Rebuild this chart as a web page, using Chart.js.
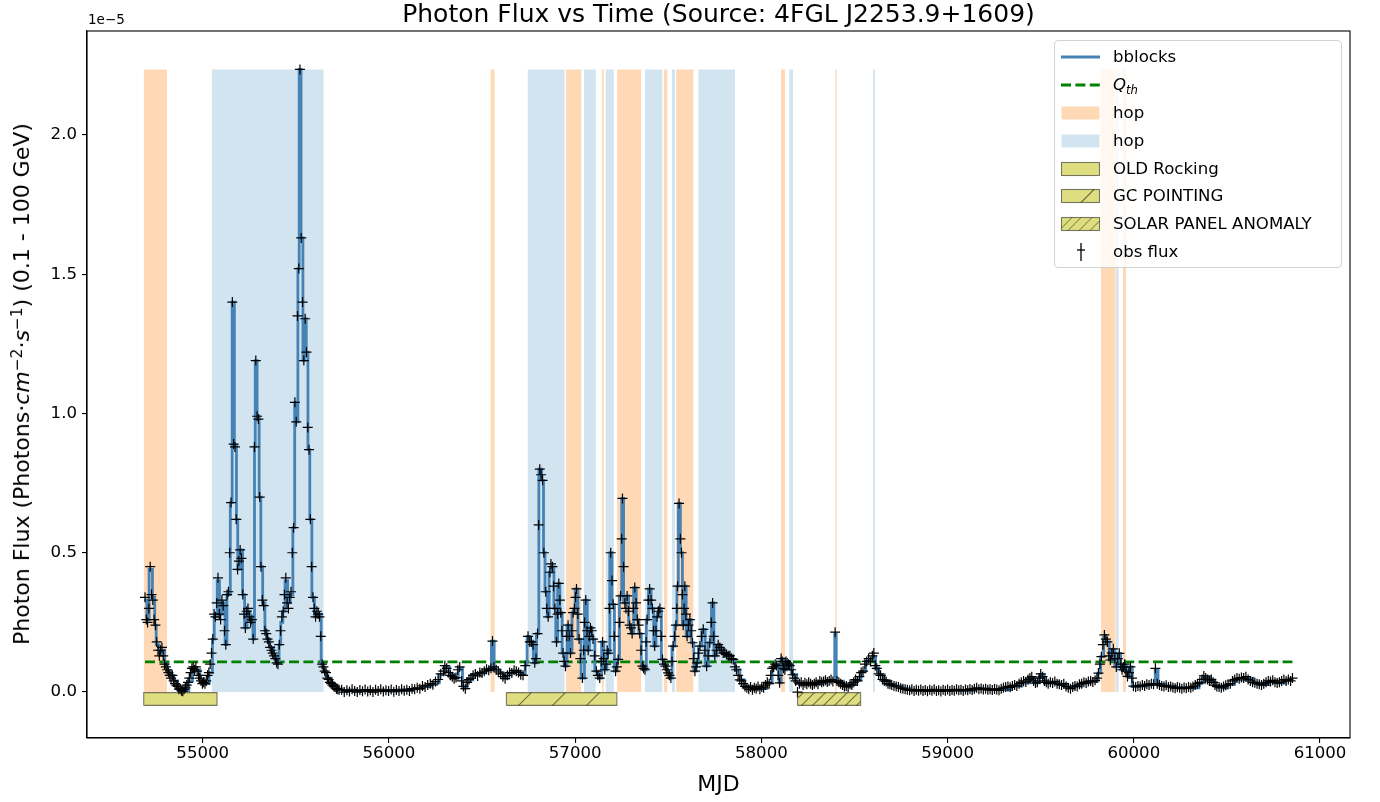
<!DOCTYPE html>
<html><head><meta charset="utf-8">
<script src="https://cdn.jsdelivr.net/npm/chart.js@4.4.0/dist/chart.umd.min.js"></script>
<style>
html,body{margin:0;padding:0;background:#fff;}
#wrap{position:relative;width:1380px;height:802px;font-family:"DejaVu Sans",sans-serif;color:#000;}
#offset{position:absolute;left:88px;top:11px;font-size:13.5px;line-height:16px;}
#ylab{position:absolute;left:22px;top:384px;transform:translate(-50%,-50%) rotate(-90deg);font-size:22px;line-height:26px;white-space:nowrap;}
#ylab sup{font-size:70%;line-height:0;vertical-align:0.45em;}
#legend{position:absolute;left:1054px;top:40px;width:288px;height:228px;border:1px solid #d3d3d3;border-radius:4px;background:rgba(255,255,255,0.8);box-sizing:border-box;font-size:16.6px;}
.row{position:absolute;left:0;width:286px;height:24px;}
.row svg{position:absolute;left:6px;top:0;}
.row span{position:absolute;left:58px;top:0;line-height:24px;white-space:nowrap;}
</style></head>
<body>
<div id="wrap">
<canvas id="c" width="1380" height="802"></canvas>
<div id="offset">1e−5</div>
<div id="ylab">Photon Flux (Photons·<i>cm</i><sup>−2</sup>·<i>s</i><sup>−1</sup>) (0.1 - 100 GeV)</div>
<div id="legend"></div>
</div>
<script>
// ---- data (flux in units of 1e-5 photons cm^-2 s^-1) ----
const obsFlux = [
[54690,0.34],[54697,0.26],[54704,0.25],[54711,0.30],[54718,0.45],[54725,0.35],[54732,0.33],[54739,0.26],[54746,0.24],[54753,0.18],
[54760,0.15],[54767,0.13],[54774,0.15],[54781,0.16],[54788,0.13],[54795,0.10],[54802,0.09],[54809,0.08],[54816,0.07],[54823,0.06],
[54830,0.05],[54837,0.06],[54844,0.04],[54851,0.03],[54858,0.025],[54865,0.02],[54872,0.01],[54879,0.012],[54886,0.005],[54893,0.003],
[54900,0.01],[54907,0.015],[54914,0.025],[54921,0.035],[54928,0.05],[54935,0.07],[54942,0.085],[54949,0.09],[54956,0.08],[54963,0.09],
[54970,0.075],[54977,0.06],[54984,0.05],[54991,0.04],[54998,0.03],[55005,0.035],[55012,0.03],[55019,0.04],[55026,0.06],[55033,0.07],
[55040,0.10],[55047,0.14],[55054,0.19],[55061,0.28],[55068,0.27],[55075,0.32],[55082,0.41],[55089,0.28],[55096,0.26],[55103,0.33],
[55110,0.31],[55117,0.22],[55124,0.17],[55131,0.35],[55138,0.36],[55145,0.50],[55152,0.68],[55159,1.40],[55166,0.89],[55173,0.88],
[55180,0.62],[55187,0.44],[55194,0.47],[55201,0.51],[55208,0.48],[55215,0.35],[55222,0.28],[55229,0.23],[55236,0.29],[55243,0.30],
[55250,0.27],[55257,0.25],[55264,0.26],[55271,0.19],[55278,0.88],[55285,1.19],[55292,0.99],[55299,0.98],[55306,0.70],[55313,0.45],
[55320,0.33],[55327,0.31],[55334,0.22],[55341,0.21],[55348,0.19],[55355,0.18],[55362,0.16],[55369,0.15],[55376,0.14],[55383,0.13],
[55390,0.12],[55397,0.105],[55404,0.10],[55411,0.17],[55418,0.22],[55425,0.27],[55432,0.29],[55439,0.35],[55446,0.41],[55453,0.32],
[55460,0.30],[55467,0.34],[55474,0.36],[55481,0.50],[55488,0.59],[55495,1.04],[55502,0.97],[55509,1.35],[55516,1.52],[55522,2.235],
[55529,1.63],[55536,1.40],[55543,1.19],[55550,1.34],[55557,1.22],[55564,0.95],[55571,0.87],[55578,0.62],[55585,0.45],[55592,0.34],
[55599,0.30],[55606,0.27],[55613,0.29],[55620,0.28],[55627,0.27],[55634,0.20],[55641,0.10],[55648,0.09],[55655,0.075],[55662,0.07],
[55669,0.05],[55676,0.045],[55683,0.035],[55690,0.03],[55697,0.025],[55704,0.02],[55711,0.018],[55718,0.012],[55725,0.01],[55732,0.008],
[55746,0.008],[55760,0.0],[55774,0.006],[55788,0.002],[55802,0.01],[55816,0.004],[55830,0.0],[55844,0.007],[55858,0.003],[55872,0.009],
[55886,0.002],[55900,0.006],[55914,0.0],[55928,0.008],[55942,0.004],[55956,0.01],[55970,0.002],[55984,0.006],[55998,0.004],[56012,0.009],
[56026,0.001],[56040,0.007],[56054,0.004],[56068,0.01],[56082,0.005],[56096,0.008],[56110,0.004],[56124,0.012],[56138,0.01],[56152,0.015],
[56166,0.012],[56180,0.022],[56194,0.018],[56208,0.025],[56222,0.03],[56236,0.026],[56250,0.038],[56264,0.045],[56278,0.065],[56292,0.075],
[56300,0.095],[56310,0.085],[56320,0.07],[56330,0.06],[56340,0.055],[56350,0.048],[56360,0.052],[56370,0.08],[56380,0.09],[56390,0.04],
[56400,0.02],[56410,0.012],[56420,0.035],[56430,0.045],[56440,0.05],[56452,0.06],[56464,0.065],[56476,0.058],[56488,0.07],[56500,0.068],
[56512,0.075],[56524,0.082],[56536,0.078],[56548,0.085],[56556,0.183],[56564,0.09],[56576,0.08],[56588,0.072],[56600,0.065],[56612,0.055],
[56624,0.048],[56636,0.06],[56648,0.07],[56660,0.068],[56672,0.078],[56684,0.075],[56696,0.07],[56708,0.062],[56720,0.06],[56732,0.095],
[56747,0.20],[56756,0.18],[56765,0.18],[56774,0.17],[56783,0.105],[56790,0.12],[56798,0.21],[56804,0.60],[56810,0.80],[56817,0.78],
[56825,0.76],[56832,0.50],[56842,0.36],[56848,0.30],[56855,0.27],[56864,0.43],[56870,0.46],[56878,0.45],[56884,0.38],[56891,0.30],
[56900,0.18],[56906,0.28],[56912,0.39],[56918,0.33],[56923,0.285],[56929,0.22],[56935,0.14],[56941,0.11],[56948,0.093],[56955,0.20],
[56962,0.24],[56968,0.20],[56975,0.14],[56982,0.22],[56989,0.285],[56996,0.30],[57002,0.34],[57007,0.37],[57014,0.28],[57021,0.19],
[57028,0.12],[57039,0.05],[57046,0.15],[57051,0.25],[57057,0.33],[57064,0.22],[57070,0.15],[57076,0.20],[57082,0.23],[57089,0.22],
[57096,0.19],[57105,0.13],[57114,0.075],[57122,0.06],[57132,0.05],[57140,0.11],[57147,0.18],[57153,0.12],[57159,0.08],[57166,0.10],
[57172,0.15],[57177,0.14],[57184,0.30],[57191,0.50],[57198,0.40],[57204,0.315],[57210,0.20],[57217,0.075],[57224,0.09],[57231,0.117],
[57238,0.25],[57244,0.345],[57250,0.55],[57254,0.695],[57260,0.45],[57267,0.32],[57273,0.30],[57279,0.345],[57286,0.29],[57293,0.24],
[57300,0.23],[57306,0.21],[57313,0.30],[57320,0.375],[57327,0.32],[57334,0.26],[57341,0.24],[57347,0.21],[57354,0.15],[57361,0.093],
[57368,0.085],[57375,0.08],[57381,0.18],[57386,0.26],[57393,0.33],[57400,0.37],[57408,0.33],[57415,0.30],[57421,0.22],[57427,0.165],
[57434,0.22],[57440,0.27],[57447,0.29],[57455,0.30],[57462,0.20],[57469,0.117],[57477,0.10],[57485,0.093],[57492,0.08],[57499,0.069],
[57506,0.06],[57514,0.05],[57520,0.11],[57526,0.165],[57534,0.20],[57541,0.24],[57546,0.30],[57550,0.38],[57558,0.677],[57565,0.55],
[57571,0.50],[57576,0.35],[57580,0.24],[57585,0.30],[57589,0.38],[57595,0.28],[57601,0.20],[57608,0.24],[57616,0.26],[57623,0.22],
[57630,0.177],[57637,0.12],[57643,0.075],[57649,0.09],[57655,0.105],[57662,0.14],[57670,0.165],[57679,0.20],[57688,0.225],[57697,0.15],
[57706,0.093],[57714,0.13],[57723,0.177],[57731,0.25],[57738,0.32],[57744,0.20],[57750,0.13],[57759,0.15],[57768,0.17],[57777,0.16],
[57786,0.15],[57795,0.14],[57804,0.14],[57813,0.135],[57822,0.13],[57831,0.13],[57840,0.12],[57849,0.117],[57858,0.09],[57866,0.08],
[57875,0.06],[57884,0.044],[57893,0.04],[57902,0.03],[57912,0.02],[57922,0.015],[57932,0.01],[57942,0.018],[57952,0.008],[57962,0.015],
[57972,0.012],[57982,0.02],[57992,0.01],[58002,0.018],[58012,0.015],[58022,0.025],[58032,0.035],[58042,0.03],[58050,0.06],[58058,0.085],
[58066,0.09],[58074,0.10],[58082,0.095],[58090,0.06],[58098,0.033],[58106,0.12],[58112,0.11],[58118,0.085],[58126,0.08],[58132,0.11],
[58138,0.105],[58146,0.10],[58152,0.095],[58160,0.08],[58168,0.062],[58176,0.05],[58184,0.04],[58194,0.0],[58204,0.03],[58214,0.035],
[58224,0.025],[58234,0.033],[58244,0.028],[58254,0.035],[58264,0.03],[58274,0.025],[58284,0.03],[58294,0.035],[58304,0.028],[58314,0.04],
[58324,0.035],[58334,0.038],[58344,0.042],[58354,0.036],[58364,0.04],[58374,0.045],[58384,0.038],[58396,0.215],[58406,0.04],[58416,0.035],
[58426,0.03],[58436,0.025],[58446,0.02],[58456,0.022],[58466,0.018],[58476,0.028],[58486,0.025],[58496,0.035],[58506,0.045],[58516,0.04],
[58526,0.055],[58536,0.07],[58546,0.075],[58556,0.10],[58566,0.11],[58576,0.12],[58586,0.11],[58596,0.13],[58604,0.14],[58612,0.095],
[58620,0.085],[58630,0.065],[58640,0.06],[58650,0.045],[58660,0.04],[58670,0.038],[58680,0.03],[58690,0.028],[58700,0.025],[58712,0.022],
[58724,0.02],[58736,0.018],[58748,0.014],[58760,0.012],[58772,0.01],[58784,0.008],[58796,0.006],[58808,0.01],[58820,0.004],[58832,0.008],
[58844,0.005],[58856,0.009],[58868,0.004],[58880,0.007],[58892,0.003],[58904,0.008],[58916,0.005],[58928,0.01],[58940,0.004],[58952,0.006],
[58964,0.002],[58976,0.008],[58988,0.005],[59000,0.009],[59012,0.004],[59024,0.007],[59036,0.005],[59048,0.01],[59060,0.006],[59072,0.008],
[59084,0.004],[59096,0.009],[59108,0.006],[59120,0.011],[59132,0.007],[59144,0.012],[59156,0.015],[59168,0.01],[59180,0.013],[59192,0.009],
[59204,0.012],[59216,0.008],[59228,0.01],[59240,0.007],[59252,0.011],[59264,0.009],[59276,0.006],[59288,0.012],[59300,0.015],[59312,0.018],
[59324,0.02],[59336,0.017],[59348,0.022],[59360,0.025],[59372,0.022],[59384,0.03],[59396,0.035],[59408,0.04],[59420,0.036],[59432,0.045],
[59442,0.05],[59452,0.055],[59462,0.04],[59472,0.032],[59482,0.035],[59492,0.05],[59500,0.065],[59510,0.055],[59520,0.04],[59530,0.035],
[59540,0.03],[59552,0.035],[59564,0.032],[59576,0.038],[59588,0.03],[59600,0.028],[59612,0.025],[59624,0.03],[59636,0.02],[59648,0.015],
[59660,0.012],[59672,0.018],[59684,0.022],[59696,0.02],[59708,0.028],[59720,0.03],[59732,0.035],[59744,0.032],[59756,0.038],[59768,0.04],
[59780,0.036],[59792,0.042],[59802,0.05],[59810,0.068],[59818,0.10],[59826,0.127],[59834,0.17],[59842,0.205],[59850,0.19],[59858,0.18],
[59866,0.13],[59874,0.115],[59882,0.14],[59890,0.155],[59898,0.12],[59906,0.09],[59914,0.12],[59922,0.139],[59930,0.10],[59937,0.08],
[59944,0.09],[59951,0.10],[59958,0.075],[59966,0.056],[59974,0.07],[59982,0.09],[59990,0.05],[59998,0.021],[60010,0.018],[60022,0.022],
[60034,0.02],[60046,0.025],[60058,0.022],[60070,0.028],[60082,0.025],[60094,0.03],[60106,0.028],[60116,0.085],[60126,0.03],[60138,0.025],
[60150,0.022],[60162,0.02],[60174,0.024],[60186,0.018],[60198,0.02],[60210,0.016],[60222,0.014],[60234,0.018],[60246,0.015],[60258,0.012],
[60270,0.016],[60282,0.014],[60294,0.018],[60306,0.015],[60318,0.02],[60330,0.025],[60342,0.03],[60354,0.035],[60366,0.045],[60376,0.058],
[60386,0.05],[60396,0.045],[60406,0.04],[60416,0.045],[60426,0.035],[60436,0.025],[60446,0.02],[60458,0.018],[60470,0.015],[60482,0.02],
[60494,0.024],[60506,0.028],[60518,0.03],[60530,0.04],[60542,0.045],[60554,0.05],[60566,0.048],[60578,0.052],[60590,0.05],[60602,0.055],
[60614,0.045],[60626,0.04],[60638,0.035],[60650,0.033],[60662,0.03],[60674,0.028],[60686,0.025],[60698,0.03],[60710,0.035],[60722,0.04],
[60734,0.038],[60746,0.042],[60758,0.035],[60770,0.032],[60782,0.035],[60794,0.04],[60806,0.045],[60818,0.04],[60830,0.045],[60842,0.04],
[60852,0.05]
];

// Bayesian blocks: block start MJD and block level
const bbStart = [54687,54700,54712,54730,54742,54750,54765,54780,54795,54810,54828,54845,54865,54895,54925,54945,54985,55010,55035,55052,
55062,55078,55090,55104,55120,55130,55148,55158,55170,55181,55188,55200,55214,55225,55238,55254,55270,55278,55282,55292,
55303,55312,55322,55334,55345,55360,55380,55398,55410,55419,55430,55442,55456,55470,55484,55494,55503,55511,55518,55528,
55538,55546,55556,55565,55575,55586,55600,55612,55636,55650,55665,55690,55720,55750,56080,56130,56180,56230,56270,56298,
56325,56350,56372,56395,56420,56450,56490,56520,56550,56565,56595,56615,56640,56670,56705,56732,56742,56758,56776,56792,
56805,56820,56830,56838,56850,56860,56872,56886,56896,56906,56918,56930,56942,56956,56970,56983,57000,57015,57032,57050,
57065,57077,57090,57106,57125,57142,57154,57170,57186,57198,57211,57225,57238,57250,57260,57274,57287,57300,57314,57328,
57342,57355,57370,57382,57394,57408,57422,57434,57448,57463,57478,57493,57507,57520,57535,57546,57554,57565,57576,57585,
57596,57609,57624,57637,57650,57663,57680,57698,57715,57732,57745,57760,57778,57796,57820,57842,57860,57885,57910,57950,
58030,58058,58078,58095,58106,58120,58134,58150,58168,58190,58300,58350,58394,58402,58440,58475,58505,58535,58560,58580,
58598,58613,58630,58660,58690,58720,58755,58800,59150,59220,59340,59400,59440,59465,59495,59520,59600,59645,59680,59720,
59770,59808,59822,59838,59854,59868,59882,59898,59914,59930,59945,59960,59976,59992,60060,60115,60130,60170,60230,60350,
60380,60410,60435,60480,60500,60540,60590,60640,60680,60730,60770,60815];
const bbLevel = [0.33,0.26,0.44,0.34,0.24,0.17,0.14,0.15,0.10,0.075,0.06,0.04,0.012,0.005,0.04,0.08,0.04,0.03,0.07,0.19,
0.27,0.40,0.28,0.32,0.17,0.35,0.68,1.40,0.885,0.62,0.44,0.51,0.35,0.23,0.29,0.26,0.19,0.88,1.19,0.99,
0.70,0.45,0.32,0.22,0.19,0.16,0.13,0.105,0.17,0.25,0.29,0.40,0.32,0.35,0.59,1.04,0.97,1.52,2.235,1.63,
1.19,1.34,1.22,0.87,0.62,0.34,0.27,0.28,0.10,0.075,0.05,0.026,0.011,0.004,0.008,0.012,0.02,0.033,0.063,0.09,
0.063,0.05,0.085,0.014,0.044,0.063,0.069,0.08,0.183,0.08,0.069,0.05,0.069,0.075,0.063,0.099,0.20,0.18,0.105,0.21,
0.80,0.76,0.50,0.36,0.27,0.43,0.45,0.30,0.18,0.39,0.285,0.14,0.093,0.24,0.14,0.285,0.37,0.19,0.05,0.33,
0.15,0.23,0.19,0.075,0.05,0.18,0.08,0.14,0.50,0.315,0.075,0.117,0.345,0.695,0.32,0.345,0.24,0.21,0.375,0.26,
0.21,0.093,0.08,0.26,0.37,0.30,0.165,0.27,0.30,0.117,0.093,0.069,0.05,0.165,0.24,0.38,0.677,0.50,0.24,0.38,
0.20,0.26,0.177,0.075,0.105,0.165,0.225,0.093,0.177,0.32,0.13,0.17,0.15,0.14,0.13,0.117,0.08,0.044,0.02,0.012,
0.033,0.085,0.10,0.033,0.12,0.08,0.11,0.097,0.062,0.03,0.033,0.039,0.209,0.039,0.021,0.027,0.044,0.074,0.11,0.115,
0.127,0.086,0.062,0.039,0.027,0.021,0.012,0.006,0.012,0.009,0.021,0.033,0.05,0.033,0.062,0.033,0.027,0.015,0.021,0.033,
0.039,0.068,0.127,0.197,0.18,0.115,0.15,0.09,0.139,0.08,0.097,0.056,0.09,0.021,0.027,0.08,0.027,0.021,0.015,0.033,
0.056,0.044,0.021,0.015,0.027,0.044,0.05,0.033,0.027,0.039,0.033,0.044];

const qThreshold = 0.108;

// HOP groups (alternating colours in order)
const hopStart = [54683,55048,56545,56744,56950,57047,57143,57163,57225,57374,57476,57520,57542,57661,58105,58149,58396,58599,59823,59904,59942];
const hopEnd   = [54808,55650,56568,56944,57034,57111,57154,57208,57356,57469,57496,57536,57636,57859,58128,58171,58405,58610,59903,59919,59958];

// Mission periods
const missionName  = ['OLD Rocking','GC POINTING','SOLAR PANEL ANOMALY'];
const missionStart = [54683,56631,58194];
const missionEnd   = [55077,57224,58533];

const xTicks = [55000,56000,57000,58000,59000,60000,61000];
const yTicks = [0.0,0.5,1.0,1.5,2.0];

// ---- build chart ----
const canvas = document.getElementById('c');
const ctx = canvas.getContext('2d');
const ORANGE = 'rgba(255,127,14,0.3)';
const BLUE = 'rgba(31,119,180,0.2)';
const YELLOW = '#dede80';
const EDGE = 'rgba(0,0,0,0.5)';

function hatchPattern(s){
  const c=document.createElement('canvas'); c.width=s; c.height=s;
  const g=c.getContext('2d');
  g.fillStyle=YELLOW; g.fillRect(0,0,s,s);
  g.strokeStyle=EDGE; g.lineWidth=1.1;
  g.beginPath();
  g.moveTo(-2,s+2); g.lineTo(s+2,-2);
  g.moveTo(-2,2); g.lineTo(2,-2);
  g.moveTo(s-2,s+2); g.lineTo(s+2,s-2);
  g.stroke();
  return ctx.createPattern(c,'repeat');
}
const missionFill = [YELLOW, hatchPattern(34), hatchPattern(11)];
const barTop = -0.002, barBot = -0.048;

const peak = Math.max(...obsFlux.map(p=>p[1]));
const tFirst = obsFlux[0][0], tLast = obsFlux[obsFlux.length-1][0];

const datasets = [];
hopStart.forEach((a,i)=>{
  datasets.push({type:'line', data:[{x:a,y:peak},{x:hopEnd[i],y:peak}], fill:'origin',
    backgroundColor: i%2===0?ORANGE:BLUE, borderWidth:0, pointRadius:0, order:10});
});
missionStart.forEach((a,i)=>{
  const b = missionEnd[i];
  datasets.push({type:'line', data:[{x:a,y:barTop},{x:b,y:barTop}], fill:{target:{value:barBot}},
    backgroundColor: missionFill[i], borderWidth:0, pointRadius:0, order:9});
  datasets.push({type:'line', data:[{x:a,y:barBot},{x:a,y:barTop},{x:b,y:barTop},{x:b,y:barBot},{x:a,y:barBot}],
    fill:false, borderColor:EDGE, borderWidth:1.1, pointRadius:0, order:8});
});
datasets.push({type:'line', label:'Q_th', data:[{x:tFirst,y:qThreshold},{x:tLast,y:qThreshold}],
  borderColor:'#008000', borderWidth:2.8, borderDash:[10,4.4], pointRadius:0, fill:false, order:3});
const bbData = bbStart.map((t,i)=>({x:t,y:bbLevel[i]}));
bbData.push({x:tLast,y:bbLevel[bbLevel.length-1]});
datasets.push({type:'line', label:'bblocks', data:bbData, stepped:true, borderColor:'#4682b4',
  borderWidth:2.8, pointRadius:0, fill:false, order:2});
datasets.push({type:'line', label:'obs flux', data:obsFlux.map(p=>({x:p[0],y:p[1]})), showLine:false,
  pointStyle:'cross', pointRadius:5, borderColor:'#000', borderWidth:1.2, order:1});

const framePlugin = {id:'frame', afterDraw(chart){
  const a=chart.chartArea, g=chart.ctx;
  g.save(); g.strokeStyle='#000'; g.lineWidth=1.1;
  g.strokeRect(a.left, a.top, a.right-a.left, a.bottom-a.top); g.restore();
}};

const tickFont = {family:'DejaVu Sans', size:16.6};
new Chart(ctx, {
  type:'line',
  data:{datasets},
  options:{
    responsive:false, animation:false, devicePixelRatio:1,
    layout:{padding:{left:0,right:30,top:0,bottom:0}},
    plugins:{
      legend:{display:false}, tooltip:{enabled:false},
      title:{display:true, text:'Photon Flux vs Time (Source: 4FGL J2253.9+1609)', fullSize:false,
        color:'#000', font:{family:'DejaVu Sans', size:25, weight:'normal'}, padding:{top:0,bottom:1}}
    },
    scales:{
      x:{type:'linear', min:54378.5, max:61161,
        afterFit(s){ s.height = 64; },
        afterBuildTicks(s){ s.ticks = xTicks.map(v=>({value:v})); },
        ticks:{color:'#000', font:tickFont, padding:1, maxRotation:0, callback:v=>String(v)},
        grid:{display:true, drawOnChartArea:false, drawTicks:true, tickLength:5, color:'#000', lineWidth:1.1},
        border:{display:true, color:'#000', width:1.1},
        title:{display:true, text:'MJD', color:'#000', font:{family:'DejaVu Sans', size:22}, padding:{top:0,bottom:4}}
      },
      y:{type:'linear', min:-0.165, max:2.373,
        afterFit(s){ s.width = 87; },
        afterBuildTicks(s){ s.ticks = yTicks.map(v=>({value:v})); },
        ticks:{color:'#000', font:tickFont, padding:5, callback:v=>Number(v).toFixed(1)},
        grid:{display:true, drawOnChartArea:false, drawTicks:true, tickLength:5, color:'#000', lineWidth:1.1},
        border:{display:true, color:'#000', width:1.1},
        title:{display:false}
      }
    }
  },
  plugins:[framePlugin]
});

// ---- legend (HTML) ----
const rows = [
  {label:'bblocks', sw:'<line x1="0" y1="12" x2="39" y2="12" stroke="#4682b4" stroke-width="2.8"/>'},
  {label:'<i>Q</i><sub style="font-size:70%"><i>th</i></sub>', sw:'<line x1="0" y1="12" x2="39" y2="12" stroke="#008000" stroke-width="2.8" stroke-dasharray="10,4.4"/>'},
  {label:'hop', sw:'<rect x="0.5" y="5.5" width="38" height="13" fill="'+ORANGE+'"/>'},
  {label:'hop', sw:'<rect x="0.5" y="5.5" width="38" height="13" fill="'+BLUE+'"/>'},
  {label:missionName[0], sw:'<rect x="0.5" y="5.5" width="38" height="13" fill="'+YELLOW+'" stroke="'+EDGE+'" stroke-width="1.1"/>'},
  {label:missionName[1], sw:'<rect x="0.5" y="5.5" width="38" height="13" fill="'+YELLOW+'" stroke="'+EDGE+'" stroke-width="1.1"/><line x1="20" y1="18.5" x2="33" y2="5.5" stroke="'+EDGE+'" stroke-width="1.1"/>'},
  {label:missionName[2], sw:'<rect x="0.5" y="5.5" width="38" height="13" fill="'+YELLOW+'" stroke="'+EDGE+'" stroke-width="1.1"/><line x1="0.5" y1="16" x2="11" y2="5.5" stroke="'+EDGE+'"/><line x1="7" y1="18.5" x2="20" y2="5.5" stroke="'+EDGE+'"/><line x1="18" y1="18.5" x2="31" y2="5.5" stroke="'+EDGE+'"/><line x1="29" y1="18.5" x2="38.5" y2="9" stroke="'+EDGE+'"/>'},
  {label:'obs flux', sw:'<line x1="20" y1="3" x2="20" y2="21" stroke="#000" stroke-width="1.3"/><line x1="16" y1="10" x2="24" y2="10" stroke="#000" stroke-width="1.3"/>'}
];
const centers = [15.5,44,72,100,127.5,155,182.5,210.5];
const leg = document.getElementById('legend');
rows.forEach((r,i)=>{
  const d=document.createElement('div'); d.className='row'; d.style.top=(centers[i]-12)+'px';
  d.innerHTML='<svg width="40" height="24">'+r.sw+'</svg><span>'+r.label+'</span>';
  leg.appendChild(d);
});
</script>
</body></html>
